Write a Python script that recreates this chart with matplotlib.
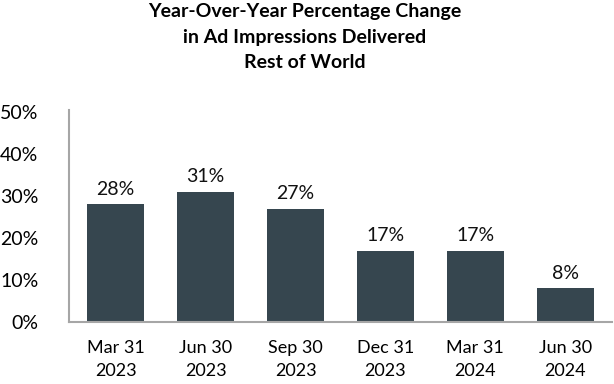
import matplotlib
matplotlib.use("Agg")
import matplotlib.pyplot as plt

categories = ["Mar 31\n2023", "Jun 30\n2023", "Sep 30\n2023", "Dec 31\n2023", "Mar 31\n2024", "Jun 30\n2024"]
values = [28, 31, 27, 17, 17, 8]
yticks = [0, 10, 20, 30, 40, 50]
title = "Year-Over-Year Percentage Change\nin Ad Impressions Delivered\nRest of World"

plt.rcParams['font.family'] = ['Lato', 'DejaVu Sans']

fig = plt.figure(figsize=(6.14, 3.84), dpi=100)
ax = fig.add_axes([69/614, 1-322/384, (612-69)/614, (322-112)/384])

x = list(range(len(categories)))
bars = ax.bar(x, values, width=0.63, color="#36464F")
for xi, v in zip(x, values):
    ax.text(xi, v + 1.6, f"{v}%", ha="center", va="bottom", fontsize=14, color="#111111")

ax.set_xlim(-0.52, 5.52)
ax.set_ylim(0, 50)
ax.set_yticks(yticks)
ax.set_yticklabels([f"{t}%" for t in yticks], fontsize=14)
ax.set_xticks(x)
ax.set_xticklabels(categories, fontsize=13, linespacing=1.5)
ax.tick_params(axis="y", length=0, pad=22)
ax.tick_params(axis="x", length=0, pad=13)

for s in ["top", "right"]:
    ax.spines[s].set_visible(False)
for s in ["left", "bottom"]:
    ax.spines[s].set_color("#A6A6A6")
    ax.spines[s].set_linewidth(1.5)
ax.spines["left"].set_bounds(0, 50.5)

fig.text(305/614, 1-3/384, title, ha="center", va="top", fontsize=14, fontweight="bold", linespacing=1.62)

fig.savefig("out.png", dpi=100)
